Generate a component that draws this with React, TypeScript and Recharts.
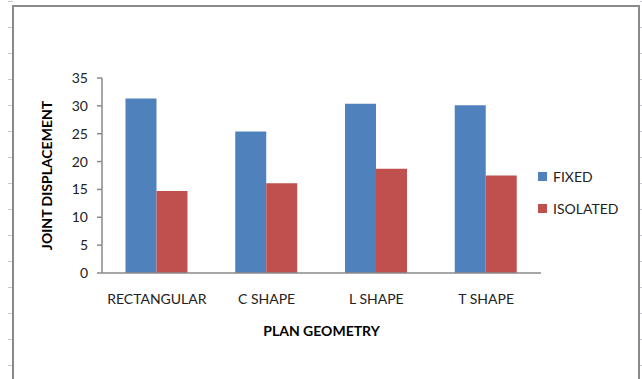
import React from 'react'
import { BarChart, Bar, XAxis, YAxis, Legend } from 'recharts'

// plan geometry categories and joint displacement per support condition
const geometries = ['RECTANGULAR', 'C SHAPE', 'L SHAPE', 'T SHAPE']
const fixedValues = [31.3, 25.4, 30.4, 30.1]
const isolatedValues = [14.7, 16.1, 18.7, 17.5]
const yTicks = [0, 5, 10, 15, 20, 25, 30, 35]

const series = [
  { key: 'fixed', name: 'FIXED', color: '#4F81BD', values: fixedValues },
  { key: 'isolated', name: 'ISOLATED', color: '#C0504D', values: isolatedValues },
]

const data = geometries.map((g, i) => {
  const row: Record<string, string | number> = { geometry: g }
  series.forEach(s => { row[s.key] = s.values[i] })
  return row
})

const FONT = 'Lato, "Open Sans", sans-serif'

// faint sheet gridline stubs at the page edges
const stubs = {
  position: 'absolute' as const,
  top: 0,
  width: 5,
  height: 379,
  backgroundImage: 'repeating-linear-gradient(to bottom, #c5c9d6 0, #c5c9d6 1px, transparent 1px, transparent 26px)',
  backgroundPosition: '0 1px',
}

function LegendBox(props: any) {
  const { payload } = props
  return (
    <div style={{ fontFamily: FONT, fontSize: 14, color: '#222' }}>
      {(payload || []).map((p: any) => (
        <div key={p.value} style={{ display: 'flex', alignItems: 'center', height: 18, marginBottom: 14 }}>
          <span style={{ width: 9, height: 9, background: p.color, marginRight: 6, display: 'inline-block' }} />
          <span>{p.value}</span>
        </div>
      ))}
    </div>
  )
}

export default function App() {
  return (
    <div style={{ position: 'fixed', left: 0, top: 0, width: 642, height: 379, background: '#fff', overflow: 'hidden' }}>
      <div style={{ ...stubs, left: 8 }} />
      <div style={{ ...stubs, left: 640 }} />
      <div
        style={{
          position: 'absolute',
          left: 12,
          top: 5,
          width: 624,
          height: 400,
          borderLeft: '2px solid #8a8a8a',
          borderTop: '2px solid #8a8a8a',
          borderRight: '2px solid #8a8a8a',
          background: '#fff',
        }}
      />
      <div style={{ position: 'absolute', left: 0, top: 0 }}>
        <BarChart
          width={642}
          height={379}
          data={data}
          margin={{ top: 78, right: 101, left: 1, bottom: 0 }}
          barCategoryGap="21.4%"
          barGap={0}
        >
          <XAxis
            dataKey="geometry"
            height={106}
            axisLine={{ stroke: '#8a8a8a', strokeWidth: 1.5 }}
            tickLine={false}
            tickSize={0}
            tickMargin={21}
            tick={{ fill: '#222', fontSize: 14, fontFamily: FONT }}
            label={{
              value: 'PLAN GEOMETRY',
              position: 'insideBottom',
              offset: 43,
              style: { fill: '#000', fontSize: 14, fontWeight: 700, fontFamily: FONT },
            }}
          />
          <YAxis
            width={101}
            domain={[0, 35]}
            ticks={yTicks}
            interval={0}
            axisLine={{ stroke: '#8a8a8a', strokeWidth: 1.5 }}
            tickLine={{ stroke: '#8a8a8a', strokeWidth: 1.5 }}
            tickSize={5}
            tickMargin={9}
            tick={{ fill: '#222', fontSize: 14, fontFamily: FONT }}
            label={{
              value: 'JOINT DISPLACEMENT',
              angle: -90,
              position: 'insideLeft',
              offset: 46,
              style: { fill: '#000', fontSize: 14, fontWeight: 700, fontFamily: FONT, textAnchor: 'middle' },
            }}
          />
          <Legend
            layout="vertical"
            align="center"
            verticalAlign="middle"
            content={<LegendBox />}
            wrapperStyle={{ left: 538, top: 167, width: 100 }}
          />
          {series.map(s => (
            <Bar key={s.key} dataKey={s.key} name={s.name} fill={s.color} isAnimationActive={false} />
          ))}
        </BarChart>
      </div>
    </div>
  )
}
